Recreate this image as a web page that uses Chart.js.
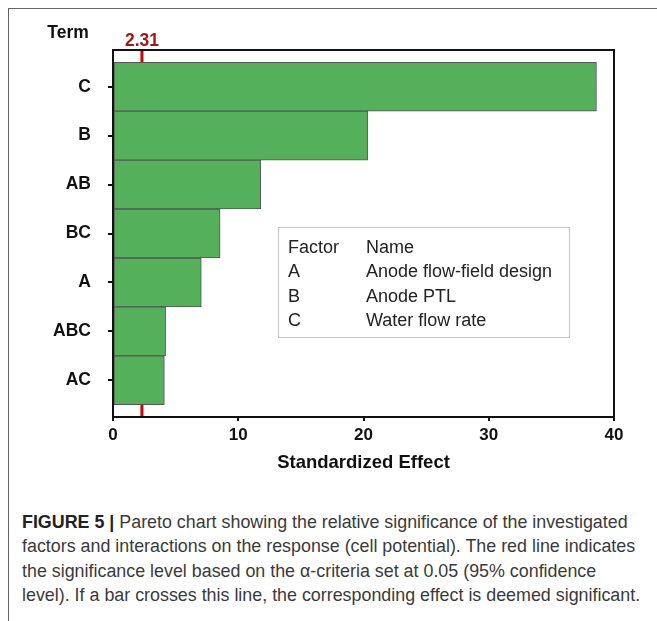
<!DOCTYPE html>
<html>
<head>
<meta charset="utf-8">
<script src="https://cdn.jsdelivr.net/npm/chart.js@4"></script>
<style>
  html, body { margin: 0; padding: 0; background: #fff; overflow: hidden; }
  #page { position: relative; width: 657px; height: 621px; overflow: hidden; font-family: 'Liberation Sans', Arial, sans-serif; }
  #frame { position: absolute; left: 8px; top: 8px; width: 700px; height: 700px; border-left: 1px solid #666; border-top: 1px solid #666; }
  #chartWrap { position: absolute; left: 0; top: 0; width: 657px; height: 490px; }
  #factorBox { position: absolute; left: 278px; top: 227px; width: 290px; height: 109px; border: 1px solid #c4c4c4; font-size: 18px; color: #222; }
  #factorBox .row { position: absolute; left: 0; height: 20px; line-height: 20px; white-space: nowrap; }
  #factorBox .code { position: absolute; left: 9px; }
  #factorBox .name { position: absolute; left: 87px; }
  #caption { position: absolute; left: 22px; top: 510px; color: #3a3a3a; font-size: 16px; line-height: 24.4px; white-space: nowrap; }
  #caption b { color: #222; }
</style>
</head>
<body>
<div id="page">
  <div id="frame"></div>
  <div id="chartWrap"><canvas id="paretoChart" width="657" height="490"></canvas></div>
  <div id="factorBox"></div>
  <div id="caption"></div>
</div>
<script>
/* Pareto chart of standardized effects */

const terms = ['C', 'B', 'AB', 'BC', 'A', 'ABC', 'AC'];
const effects = [38.6, 20.35, 11.8, 8.55, 7.05, 4.2, 4.1];
const xTicks = [0, 10, 20, 30, 40];
const criticalValue = 2.31;

const factorCodes = ['A', 'B', 'C'];
const factorNames = ['Anode flow-field design', 'Anode PTL', 'Water flow rate'];

const captionLines = [
  '<b>FIGURE 5 |</b> Pareto chart showing the relative significance of the investigated',
  'factors and interactions on the response (cell potential). The red line indicates',
  'the significance level based on the \u03b1-criteria set at 0.05 (95% confidence',
  'level). If a bar crosses this line, the corresponding effect is deemed significant.'
];

const FONT = "'Liberation Sans', Arial, sans-serif";

// plot frame + red significance line (under the bars), labels on top
const paretoDecor = {
  id: 'paretoDecor',
  beforeDatasetsDraw(chart) {
    const { ctx, chartArea: a, scales } = chart;
    ctx.save();
    const xc = scales.x.getPixelForValue(criticalValue);
    ctx.strokeStyle = '#d80000';
    ctx.lineWidth = 3;
    ctx.beginPath();
    ctx.moveTo(xc, a.top);
    ctx.lineTo(xc, a.bottom);
    ctx.stroke();

    ctx.strokeStyle = '#111';
    ctx.lineWidth = 2;
    ctx.strokeRect(a.left, a.top, a.right - a.left, a.bottom - a.top);
    ctx.restore();
  },
  afterDraw(chart) {
    const { ctx, scales } = chart;
    ctx.save();
    ctx.textAlign = 'center';
    ctx.textBaseline = 'middle';
    ctx.font = 'bold 17.5px ' + FONT;
    ctx.fillStyle = '#111';
    ctx.fillText('Term', 68, 33);
    ctx.fillStyle = '#a01818';
    ctx.fillText(criticalValue.toFixed(2), scales.x.getPixelForValue(criticalValue), 41);
    ctx.restore();
  }
};

new Chart(document.getElementById('paretoChart'), {
  type: 'bar',
  data: {
    datasets: [{
      data: effects.map((v, i) => ({ x: v, y: i })),
      backgroundColor: '#54b05b',
      borderColor: '#555',
      borderWidth: 1,
      borderSkipped: false,
      barPercentage: 1,
      categoryPercentage: 1,
    }]
  },
  options: {
    indexAxis: 'y',
    responsive: false,
    animation: false,
    layout: { padding: { top: 50, right: 43, bottom: 13, left: 0 } },
    plugins: { legend: { display: false }, tooltip: { enabled: false } },
    scales: {
      x: {
        type: 'linear',
        min: 0,
        max: 40,
        afterBuildTicks: s => { s.ticks = xTicks.map(v => ({ value: v })); },
        afterFit: s => { s.height = 60; },
        border: { display: false },
        grid: { drawOnChartArea: false, drawTicks: true, tickLength: 4, color: '#111', lineWidth: 2 },
        ticks: { color: '#111', padding: 4, font: { family: FONT, size: 17, weight: 'bold' } },
        title: {
          display: true,
          text: 'Standardized Effect',
          color: '#111',
          padding: { top: 4, bottom: 3 },
          font: { family: FONT, size: 18.5, weight: 'bold' }
        }
      },
      y: {
        type: 'linear',
        reverse: true,
        offset: false,
        min: -0.75,
        max: terms.length - 0.25,
        afterBuildTicks: s => { s.ticks = terms.map((t, i) => ({ value: i })); },
        afterFit: s => { s.width = 113; },
        border: { display: false },
        grid: { offset: false, drawOnChartArea: false, drawTicks: true, tickLength: 5, color: '#111', lineWidth: 2 },
        ticks: {
          color: '#111',
          padding: 17,
          font: { family: FONT, size: 17.5, weight: 'bold' },
          callback: v => terms[v]
        }
      }
    }
  },
  plugins: [paretoDecor]
});

// factor / name box
const box = document.getElementById('factorBox');
const rows = [['Factor', 'Name']].concat(factorCodes.map((c, i) => [c, factorNames[i]]));
rows.forEach((r, i) => {
  const row = document.createElement('div');
  row.className = 'row';
  row.style.top = (9 + i * 24.4) + 'px';
  row.innerHTML = '<span class="code">' + r[0] + '</span><span class="name">' + r[1] + '</span>';
  box.appendChild(row);
});

// caption, sized so the longest line spans the figure width
const cap = document.getElementById('caption');
cap.innerHTML = captionLines.map(l => '<span>' + l + '</span>').join('<br>');
const widest = Math.max(...[...cap.querySelectorAll('span')].map(s => s.getBoundingClientRect().width));
cap.style.fontSize = (16 * 618 / widest).toFixed(2) + 'px';
</script>
</body>
</html>
